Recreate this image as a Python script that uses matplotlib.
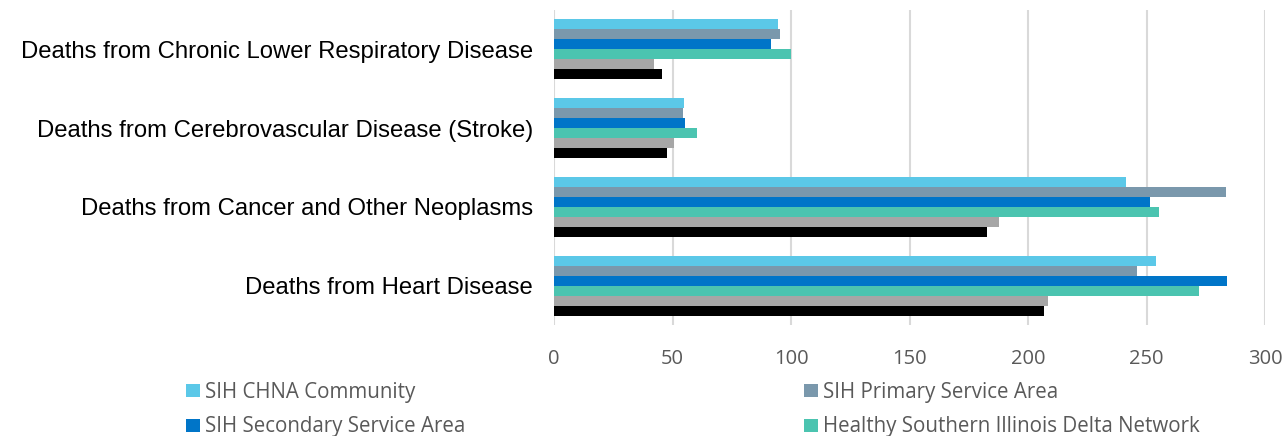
import matplotlib
matplotlib.use("Agg")
import matplotlib.pyplot as plt
import numpy as np

categories = ["Deaths from Heart Disease",
              "Deaths from Cancer and Other Neoplasms",
              "Deaths from Cerebrovascular Disease (Stroke)",
              "Deaths from Chronic Lower Respiratory Disease"]

series_names = ["SIH CHNA Community", "SIH Primary Service Area",
                "SIH Secondary Service Area", "Healthy Southern Illinois Delta Network",
                "Illinois", "U.S."]

chna      = [254.2, 241.2, 54.9, 94.5]
primary   = [245.8, 283.4, 54.6, 95.4]
secondary = [283.8, 251.6, 55.3, 91.6]
delta     = [272.2, 255.4, 60.3, 99.9]
illinois  = [208.6, 187.8, 50.5, 42.2]
us        = [206.8, 182.8, 47.5, 45.7]

colors = ["#5BC8E8", "#7A98AC", "#0075C8", "#4BC4B0", "#A6A6A6", "#000000"]

values = [chna, primary, secondary, delta, illinois, us]

fig = plt.figure(figsize=(12.83, 4.36), dpi=100)
ax = fig.add_axes([0.4318, 0.2546, 0.5542, 0.7225])

y = np.arange(len(categories))
h = 0.127
handles = []
for i, (vals, c, name) in enumerate(zip(values, colors, series_names)):
    offset = (2.5 - i) * h
    b = ax.barh(y + offset, vals, height=h, color=c, label=name)
    handles.append(b)

ax.set_xlim(0, 300)
ax.set_ylim(-0.5, 3.5)
ax.set_xticks(np.arange(0, 301, 50))
ax.set_yticks(y)
ax.set_yticklabels(categories, fontsize=17.2, family="Liberation Sans", color="#000000")
ax.tick_params(axis="x", labelsize=14.5, colors="#595959", length=0, pad=17)
ax.tick_params(axis="y", length=0, pad=15)
for lbl in ax.get_xticklabels():
    lbl.set_family("Open Sans")
ax.grid(axis="x", color="#D9D9D9", linewidth=1.5)
ax.set_axisbelow(True)
for s in ax.spines.values():
    s.set_visible(False)

# only the first four series fit in the legend area; row-wise order
order = [0, 2, 1, 3]
leg = fig.legend([handles[i] for i in order], [series_names[i] for i in order],
                 loc="upper left", bbox_to_anchor=(0.145, 0.125), ncol=2, frameon=False,
                 borderpad=0, borderaxespad=0,
                 prop={"family": "Open Sans", "size": 14.8},
                 handlelength=0.68, handleheight=0.58, handletextpad=0.25,
                 columnspacing=16.45, labelspacing=0.68)
for t in leg.get_texts():
    t.set_color("#595959")

fig.savefig("out.png", dpi=100)
